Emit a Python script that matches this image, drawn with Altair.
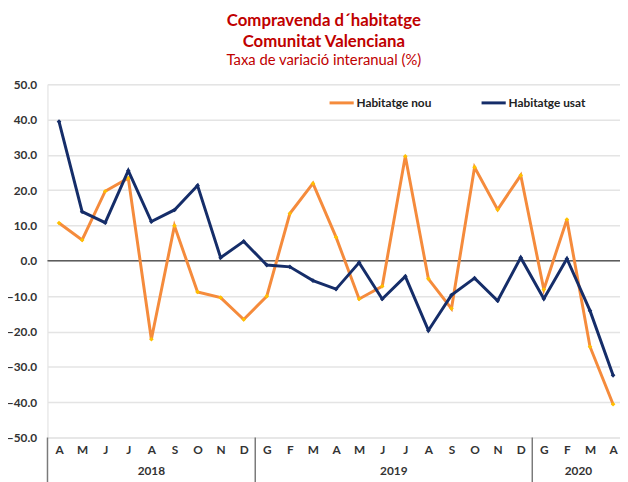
import altair as alt
import pandas as pd

months = ["A", "M", "J", "J", "A", "S", "O", "N", "D",
          "G", "F", "M", "A", "M", "J", "J", "A", "S", "O", "N", "D",
          "G", "F", "M", "A"]
years = ["2018", "2019", "2020"]
months_per_year = [9, 12, 4]
series = ["Habitatge nou", "Habitatge usat"]
nou = [10.7, 5.9, 19.7, 23.4, -22.2, 9.9, -8.8, -10.4, -16.6,
       -10.0, 13.4, 21.9, 6.7, -10.8, -7.2, 29.6, -5.1, -13.5, 26.5, 14.5, 24.2,
       -8.1, 11.7, -24.3, -40.6]
usat = [39.4, 13.9, 10.8, 25.5, 11.1, 14.4, 21.3, 0.9, 5.5,
        -1.2, -1.7, -5.6, -8.0, -0.5, -10.8, -4.4, -19.7, -9.7, -4.9, -11.3, 0.9,
        -10.7, 0.6, -14.1, -32.4]

ORANGE = "#F58B3C"
YELLOW = "#FFC000"
NAVY = "#152D69"
RED = "#C00000"
FONT = "Lato"

W, H = 580, 358

df_nou = pd.DataFrame({"i": range(len(nou)), "v": nou, "serie": series[0]})
df_usat = pd.DataFrame({"i": range(len(usat)), "v": usat, "serie": series[1]})

# year blocks
bounds, centers = [-0.5], []
start = 0
for n in months_per_year:
    centers.append(start + (n - 1) / 2)
    start += n
    bounds.append(start - 0.5)
df_bounds = pd.DataFrame({"b": bounds[:-1]})
df_years = pd.DataFrame({"c": centers, "y": years})

xscale = alt.Scale(domain=[-0.5, 24.3], nice=False, zero=False)
yscale = alt.Scale(domain=[-50, 50], nice=False)

label_expr = "[" + ",".join("'%s'" % m for m in months) + "][datum.value]"

x_axis = alt.Axis(values=list(range(len(months))), labelExpr=label_expr, ticks=False,
                  domain=False, grid=False, labelFlush=False, labelOverlap=False,
                  labelFont=FONT, labelFontWeight="bold", labelFontSize=12,
                  labelColor="#333333", labelPadding=7, title=None)
y_axis = alt.Axis(values=list(range(-50, 51, 10)), format=".1f", ticks=False, domain=False,
                  grid=True, gridColor="#e4e4e4", gridWidth=1.5, labelOverlap=False,
                  labelFlush=False,
                  labelFont=FONT, labelFontWeight="bold", labelFontSize=12,
                  labelColor="#333333", labelPadding=11, title=None)

color = alt.Color("serie:N", scale=alt.Scale(domain=series, range=[ORANGE, NAVY]),
                  legend=alt.Legend(orient="none", legendX=284, legendY=5,
                                    direction="horizontal", title=None,
                                    symbolType="stroke", symbolStrokeWidth=3,
                                    symbolSize=600, labelFont=FONT,
                                    labelFontWeight="bold", labelFontSize=12,
                                    labelColor="#222222", columnPadding=44,
                                    labelOffset=1))

X = alt.X("i:Q", scale=xscale, axis=x_axis)
Y = alt.Y("v:Q", scale=yscale, axis=y_axis)

zero = alt.Chart(pd.DataFrame({"z": [0]})).mark_rule(color="#5c5c5c", strokeWidth=1.5).encode(
    y=alt.Y("z:Q", scale=yscale, axis=y_axis))

line_nou = alt.Chart(df_nou).mark_line(strokeWidth=3).encode(x=X, y=Y, color=color)
pts_nou = alt.Chart(df_nou).mark_point(shape="diamond", filled=True, size=22, color=YELLOW,
                                       opacity=1).encode(x=X, y=Y)
line_usat = alt.Chart(df_usat).mark_line(strokeWidth=3).encode(x=X, y=Y, color=color)
pts_usat = alt.Chart(df_usat).mark_point(shape="diamond", filled=True, size=22, color=NAVY,
                                         opacity=1).encode(x=X, y=Y)

seps = alt.Chart(df_bounds).mark_rule(color="#7a7a7a", strokeWidth=1.5).encode(
    x=alt.X("b:Q", scale=xscale, axis=x_axis), y=alt.value(H), y2=alt.value(H + 50))
year_text = alt.Chart(df_years).mark_text(font=FONT, fontWeight="bold", fontSize=12,
                                          color="#333333", baseline="middle").encode(
    x=alt.X("c:Q", scale=xscale, axis=x_axis), y=alt.value(H + 34), text="y:N")

chart = alt.layer(zero, line_nou, pts_nou, line_usat, pts_usat, seps, year_text).properties(
    width=W, height=H,
    autosize=alt.AutoSizeParams(type="none"),
    padding={"left": 40, "top": 74, "right": 0, "bottom": 48},
    title=alt.TitleParams(text=["Compravenda d´habitatge", "Comunitat Valenciana"],
                          subtitle="Taxa de variació interanual (%)",
                          color=RED, subtitleColor=RED, font=FONT, subtitleFont=FONT,
                          fontSize=17, fontWeight="bold", subtitleFontSize=15,
                          lineHeight=21, subtitlePadding=3, anchor="middle",
                          offset=9, dx=-10),
).configure_view(stroke="#8a8a8a", strokeWidth=1.5).configure(background="white")

chart.save("out.html", embed_options={"renderer": "svg", "actions": False})
